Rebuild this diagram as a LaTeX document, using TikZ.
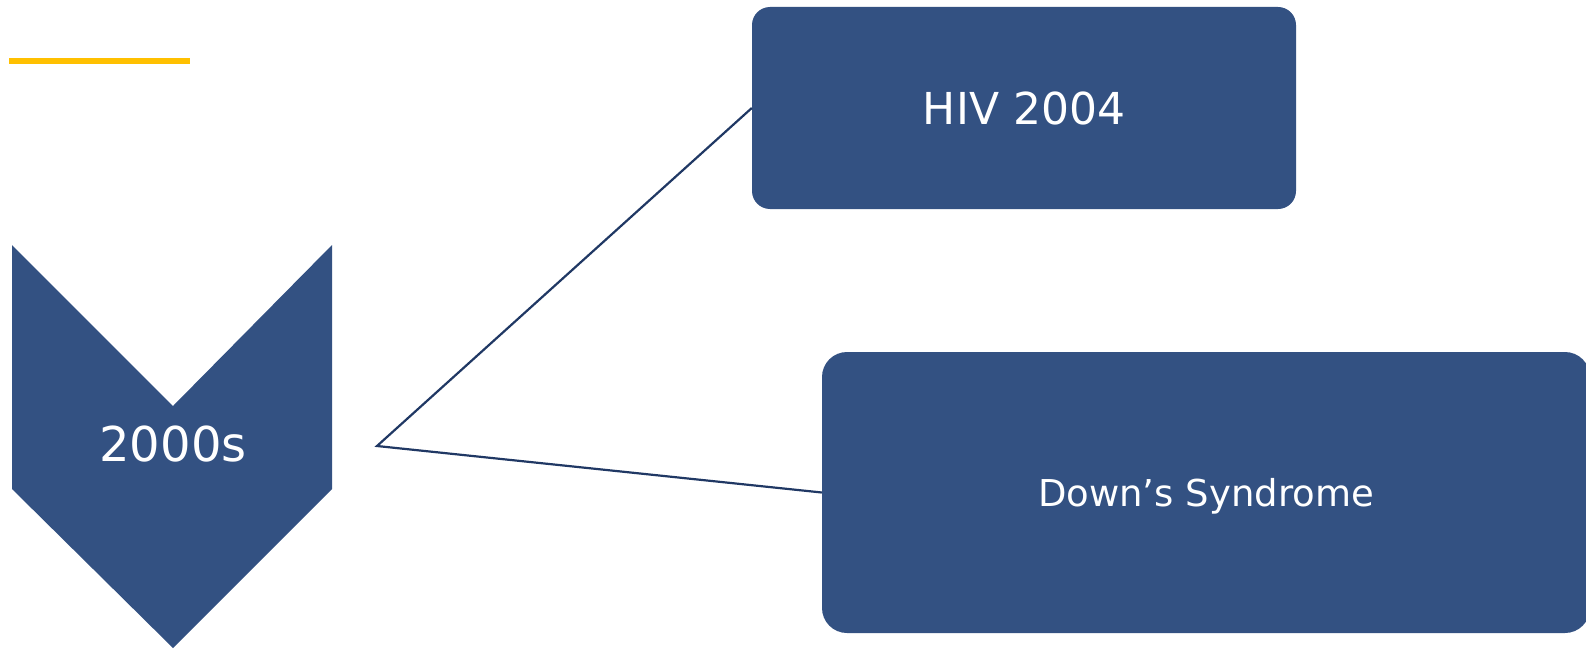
\documentclass[tikz,border=0pt]{standalone}
\usepackage{fontspec}
\setmainfont{DejaVu Sans}
\usetikzlibrary{positioning}
\definecolor{boxblue}{RGB}{51,81,130}
\definecolor{linenavy}{RGB}{32,56,100}
\definecolor{baryellow}{RGB}{255,192,0}

\begin{document}
\begin{tikzpicture}[x=1pt, y=-1pt,
        box/.style = {fill=boxblue, text=white, inner sep=0pt, text depth=0pt},
        link/.style = {draw=linenavy, line width=2.2pt}]
        \useasboundingbox (0,0) rectangle (1586,650);
        \draw[baryellow, line width=5.5pt] (9,61) -- (190,61);
        % chevron
        \fill[boxblue] (12,245) -- (173,406) -- (332,245) -- (332,489) -- (173,648) -- (12,489) -- cycle;
        \node[text=white, inner sep=0pt, font=\fontsize{48}{58}\selectfont] (era) at (173,444) {2000s};
        \node[box, rounded corners=18pt, minimum width=544pt, minimum height=202pt,
              font=\fontsize{44}{53}\selectfont] (hiv) at (1024,108) {HIV 2004};
        \node[box, rounded corners=25pt, minimum width=768pt, minimum height=281pt,
              font=\fontsize{37}{44}\selectfont] (downs) at (1206,492.5) {Down’s Syndrome};
        \coordinate (fork) at (377,446);
        \draw[link] (hiv.west) -- (fork) -- (downs.west);
    \end{tikzpicture}
\end{document}
